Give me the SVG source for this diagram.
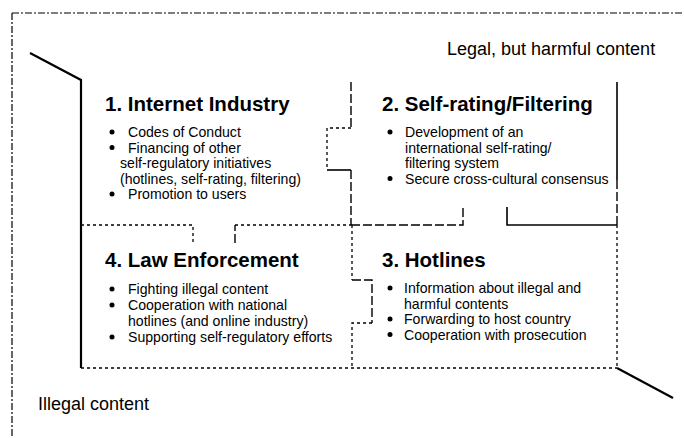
<svg xmlns="http://www.w3.org/2000/svg" width="684" height="438" viewBox="0 0 684 438">
  <style>
    .title { font-family: "Liberation Sans", Arial, sans-serif; font-size: 20.5px; font-weight: bold; fill: #000; }
    .item { font-family: "Liberation Sans", Arial, sans-serif; font-size: 14.1px; fill: #000; }
    .zone { font-family: "Liberation Sans", Arial, sans-serif; font-size: 18px; fill: #000; }
    .bullet { fill: #000; }
    .solid { fill: none; stroke: #000; stroke-width: 1.6; }
    .heavy { fill: none; stroke: #000; stroke-width: 2.2; }
    .dash { fill: none; stroke: #000; stroke-width: 1.4; stroke-dasharray: 9 3; }
    .dot { fill: none; stroke: #000; stroke-width: 1.3; stroke-dasharray: 3 3; }
    .dashdot { fill: none; stroke: #000; stroke-width: 1.2; stroke-dasharray: 7 2 2 2; }
  </style>
  <rect width="684" height="438" fill="#fff"/>

  <!-- outer frame of the legal / illegal zones -->
  <g id="frame">
    <path class="dashdot" d="M12 13 H684"/>
    <path class="dashdot" d="M12 13 V438"/>
    <path class="heavy" d="M30 53 L81 80 V368"/>
    <path class="heavy" d="M617 368 L673 398"/>
  </g>

  <!-- borders between the four fields -->
  <g id="connectors">
    <!-- 1 | 2 divider with tab -->
    <path class="dash" d="M351 82 V128"/>
    <path class="dot" d="M351 128 H327 V170"/>
    <path class="solid" d="M327 170 H351"/>
    <path class="dash" d="M351 170 V225"/>
    <!-- horizontal middle divider -->
    <path class="dot" d="M81 225 H193 V242"/>
    <path class="dash" d="M235 243 V225"/>
    <path class="dot" d="M235 225 H351"/>
    <path class="dash" d="M351 225 H463 V207"/>
    <path class="solid" d="M507 207 V225 H617"/>
    <!-- right edge -->
    <path class="solid" d="M617 82 V180"/>
    <path class="dash" d="M617 180 V225"/>
    <path class="dot" d="M617 225 V368"/>
    <!-- 4 | 3 divider with tab -->
    <path class="dot" d="M352 225 V280"/>
    <path class="dash" d="M352 280 H372 V323"/>
    <path class="dot" d="M372 323 H352 V368"/>
    <!-- bottom edge -->
    <path class="dot" d="M81 368 H617"/>
  </g>

  <g id="zone-legal">
    <text class="zone" x="447" y="55">Legal, but harmful content</text>
  </g>
  <g id="zone-illegal">
    <text class="zone" x="38" y="410">Illegal content</text>
  </g>

  <g id="node-internet-industry">
    <text class="title" x="105" y="111">1. Internet Industry</text>
    <circle class="bullet" cx="112" cy="132" r="2.5"/>
    <text class="item" x="128" y="137">Codes of Conduct</text>
    <circle class="bullet" cx="112" cy="147.5" r="2.5"/>
    <text class="item" x="128" y="152.5">Financing of other</text>
    <text class="item" x="120" y="168">self-regulatory initiatives</text>
    <text class="item" x="120" y="183.5">(hotlines, self-rating, filtering)</text>
    <circle class="bullet" cx="112" cy="194" r="2.5"/>
    <text class="item" x="128" y="199">Promotion to users</text>
  </g>

  <g id="node-self-rating">
    <text class="title" x="382" y="111">2. Self-rating/Filtering</text>
    <circle class="bullet" cx="390" cy="132" r="2.5"/>
    <text class="item" x="405" y="137">Development of an</text>
    <text class="item" x="405" y="152.5">international self-rating/</text>
    <text class="item" x="405" y="168">filtering system</text>
    <circle class="bullet" cx="390" cy="178.5" r="2.5"/>
    <text class="item" x="405" y="183.5">Secure cross-cultural consensus</text>
  </g>

  <g id="node-hotlines">
    <text class="title" x="382" y="267">3. Hotlines</text>
    <circle class="bullet" cx="390" cy="288" r="2.5"/>
    <text class="item" x="404" y="293">Information about illegal and</text>
    <text class="item" x="404" y="308.5">harmful contents</text>
    <circle class="bullet" cx="390" cy="319" r="2.5"/>
    <text class="item" x="404" y="324">Forwarding to host country</text>
    <circle class="bullet" cx="390" cy="334.5" r="2.5"/>
    <text class="item" x="404" y="339.5">Cooperation with prosecution</text>
  </g>

  <g id="node-law-enforcement">
    <text class="title" x="105" y="267">4. Law Enforcement</text>
    <circle class="bullet" cx="112" cy="289" r="2.5"/>
    <text class="item" x="128" y="294">Fighting illegal content</text>
    <circle class="bullet" cx="112" cy="305" r="2.5"/>
    <text class="item" x="128" y="310">Cooperation with national</text>
    <text class="item" x="128" y="326">hotlines (and online industry)</text>
    <circle class="bullet" cx="112" cy="337" r="2.5"/>
    <text class="item" x="128" y="342">Supporting self-regulatory efforts</text>
  </g>
</svg>
